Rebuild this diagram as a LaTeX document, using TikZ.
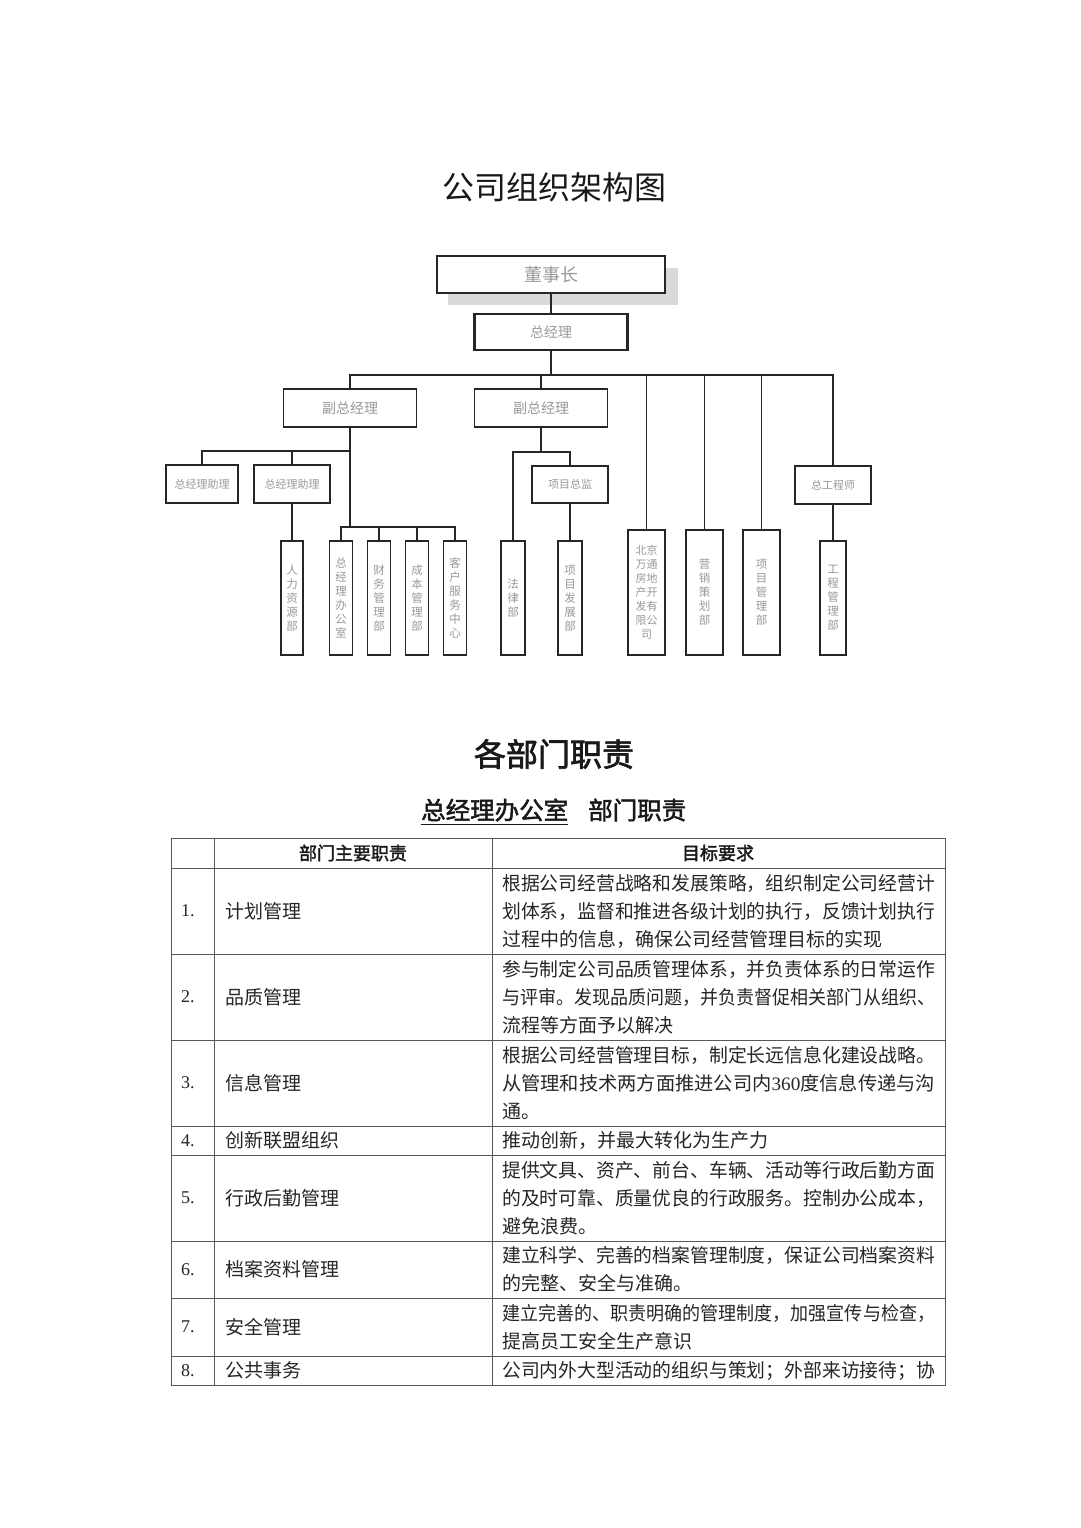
\documentclass[tikz,border=0pt]{standalone}
\usepackage{fontspec}
\usepackage{graphicx}
\usetikzlibrary{calc}
\setmainfont{Noto Sans CJK SC}[AutoFakeBold=2]
\newfontfamily\lat{Liberation Serif}
\newcommand\fitl[1]{\resizebox{433pt}{\height}{#1}}
\tikzset{
  box/.style={draw=black!85, line width=1.3pt, fill=white, inner sep=0pt, text=black!40, align=center},
  topbox/.style={box, line width=2.6pt},
  vbox/.style={box, minimum height=114pt, font=\fontsize{11.5}{14}\selectfont},
  tbox/.style={box, minimum height=125pt, minimum width=37pt, font=\fontsize{11.5}{14}\selectfont},
  link/.style={draw=black!85, line width=1.2pt},
  grid/.style={draw=black!65, line width=1pt},
  cell/.style={anchor=west, inner sep=0pt, align=left, text=black!85, font=\fontsize{19}{28}\selectfont},
  num/.style={anchor=west, inner sep=0pt, text=black!85, font=\lat\fontsize{18}{20}\selectfont}
}
\begin{document}
\begin{tikzpicture}[x=1pt,y=-1pt]
\useasboundingbox (0,0) rectangle (1080,1528);
\fill[white] (0,0) rectangle (1080,1528);

% titles
\node[font=\fontsize{32}{34}\selectfont, text=black!90] (t1) at (554,187) {公司组织架构图};

% shadow of top box
\fill[black!15] (448,268) rectangle (678,305);

% top nodes
\node[topbox, minimum width=228pt, minimum height=37pt, font=\fontsize{18}{20}\selectfont] (dsz) at (551,274.5) {董事长};
\node[topbox, minimum width=153pt, minimum height=36pt, font=\fontsize{14}{16}\selectfont] (zjl) at (551,332) {总经理};
\node[box, minimum width=133pt, minimum height=38pt, font=\fontsize{14}{16}\selectfont] (fz1) at (350,408) {副总经理};
\node[box, minimum width=133pt, minimum height=38pt, font=\fontsize{14}{16}\selectfont] (fz2) at (541,408) {副总经理};
\node[box, minimum width=72pt, minimum height=38pt, font=\fontsize{11}{13}\selectfont] (zl1) at (202,484) {总经理助理};
\node[box, minimum width=76pt, minimum height=38pt, font=\fontsize{11}{13}\selectfont] (zl2) at (292,484) {总经理助理};
\node[box, minimum width=76pt, minimum height=37pt, font=\fontsize{11}{13}\selectfont] (xmzj) at (570,484.5) {项目总监};
\node[box, minimum width=76pt, minimum height=38pt, font=\fontsize{11}{13}\selectfont] (zgcs) at (833,485) {总工程师};

% vertical boxes
\node[vbox, minimum width=22pt] (rl) at (292,598) {人\\力\\资\\源\\部};
\node[vbox, minimum width=23pt] (zb) at (341,598) {总\\经\\理\\办\\公\\室};
\node[vbox, minimum width=23pt] (cw) at (379,598) {财\\务\\管\\理\\部};
\node[vbox, minimum width=23pt] (cb) at (417,598) {成\\本\\管\\理\\部};
\node[vbox, minimum width=23pt] (kf) at (455,598) {客\\户\\服\\务\\中\\心};
\node[vbox, minimum width=24pt] (fl) at (513,598) {法\\律\\部};
\node[vbox, minimum width=24pt] (xf) at (570,598) {项\\目\\发\\展\\部};
\node[vbox, minimum width=26pt] (gc) at (833,598) {工\\程\\管\\理\\部};
\node[tbox, font=\fontsize{11}{14}\selectfont] (kfgs) at (646.5,592.5) {北京\\万通\\房地\\产开\\发有\\限公\\司};
\node[tbox] (yx) at (704.5,592.5) {营\\销\\策\\划\\部};
\node[tbox] (xmgl) at (761.5,592.5) {项\\目\\管\\理\\部};

% bus coordinates
\coordinate (b1) at (551,375);
\coordinate (b2) at (350,451);
\coordinate (b3) at (350,527);
\coordinate (b4) at (541,452);

% connectors
\draw[link] (dsz.south) -- (zjl.north);
\draw[link] (zjl.south) -- (b1);
\draw[link] (fz1.north) -- (fz1.north |- b1) -- (zgcs.north |- b1) -- (zgcs.north);
\draw[link] (fz2.north) -- (fz2.north |- b1);
\draw[link] (kfgs.north) -- (kfgs.north |- b1);
\draw[link] (yx.north) -- (yx.north |- b1);
\draw[link] (xmgl.north) -- (xmgl.north |- b1);

\draw[link] (fz1.south) -- (b3);
\draw[link] (zl1.north) |- (b2);
\draw[link] (zl2.north) -- (zl2.north |- b2);
\draw[link] (zl2.south) -- (rl.north);
\draw[link] (zb.north) -- (zb.north |- b3) -- (kf.north |- b3) -- (kf.north);
\draw[link] (cw.north) -- (cw.north |- b3);
\draw[link] (cb.north) -- (cb.north |- b3);

\draw[link] (fz2.south) -- (b4);
\draw[link] (fl.north) -- (fl.north |- b4) -- (xmzj.north |- b4) -- (xmzj.north);
\draw[link] (xmzj.south) -- (xf.north);
\draw[link] (zgcs.south) -- (gc.north);

% section titles
\node[font=\fontsize{32}{34}\selectfont\bfseries, text=black!90] (t2) at (554,754) {各部门职责};
\node[anchor=west, inner sep=0pt, font=\fontsize{24.5}{26}\selectfont\bfseries, text=black!90] (t3) at (421,810) {总经理办公室};
\node[anchor=west, inner sep=0pt, font=\fontsize{24.5}{26}\selectfont\bfseries, text=black!90] (t4) at (588,810) {部门职责};
\draw[black!90, line width=1.2pt] ($(t3.south west)+(0,3)$) -- ($(t3.south east)+(0,3)$);

% table grid
\draw[grid] (171,838) rectangle (945,1385);
\draw[grid] (214,838) -- (214,1385);
\draw[grid] (492,838) -- (492,1385);
\foreach \yy in {868,954,1040,1126,1155,1241,1298,1356} {
  \draw[grid] (171,\yy) -- (945,\yy);
}

% header
\node[font=\fontsize{18}{20}\selectfont\bfseries, text=black!90] (h1) at (353,853) {部门主要职责};
\node[font=\fontsize{18}{20}\selectfont\bfseries, text=black!90] (h2) at (718,853) {目标要求};

% rows
\node[num] (n1) at (181,911) {1.};
\node[cell] (d1) at (225,911) {计划管理};
\node[cell] (g1) at (502,911) {\fitl{根据公司经营战略和发展策略，组织制定公司经营计}\\\fitl{划体系，监督和推进各级计划的执行，反馈计划执行}\\过程中的信息，确保公司经营管理目标的实现};

\node[num] (n2) at (181,997) {2.};
\node[cell] (d2) at (225,997) {品质管理};
\node[cell] (g2) at (502,997) {\fitl{参与制定公司品质管理体系，并负责体系的日常运作}\\\fitl{与评审。发现品质问题，并负责督促相关部门从组织、}\\流程等方面予以解决};

\node[num] (n3) at (181,1083) {3.};
\node[cell] (d3) at (225,1083) {信息管理};
\node[cell] (g3) at (502,1083) {\fitl{根据公司经营管理目标，制定长远信息化建设战略。}\\\fitl{从管理和技术两方面推进公司内{\lat 360}度信息传递与沟}\\通。};

\node[num] (n4) at (181,1140.5) {4.};
\node[cell] (d4) at (225,1140.5) {创新联盟组织};
\node[cell] (g4) at (502,1140.5) {推动创新，并最大转化为生产力};

\node[num] (n5) at (181,1198) {5.};
\node[cell] (d5) at (225,1198) {行政后勤管理};
\node[cell] (g5) at (502,1198) {\fitl{提供文具、资产、前台、车辆、活动等行政后勤方面}\\\fitl{的及时可靠、质量优良的行政服务。控制办公成本，}\\避免浪费。};

\node[num] (n6) at (181,1269.5) {6.};
\node[cell] (d6) at (225,1269.5) {档案资料管理};
\node[cell] (g6) at (502,1269.5) {\fitl{建立科学、完善的档案管理制度，保证公司档案资料}\\的完整、安全与准确。};

\node[num] (n7) at (181,1327) {7.};
\node[cell] (d7) at (225,1327) {安全管理};
\node[cell] (g7) at (502,1327) {\fitl{建立完善的、职责明确的管理制度，加强宣传与检查，}\\提高员工安全生产意识};

\node[num] (n8) at (181,1370.5) {8.};
\node[cell] (d8) at (225,1370.5) {公共事务};
\node[cell] (g8) at (502,1370.5) {\fitl{公司内外大型活动的组织与策划；外部来访接待；协}};
\end{tikzpicture}
\end{document}
